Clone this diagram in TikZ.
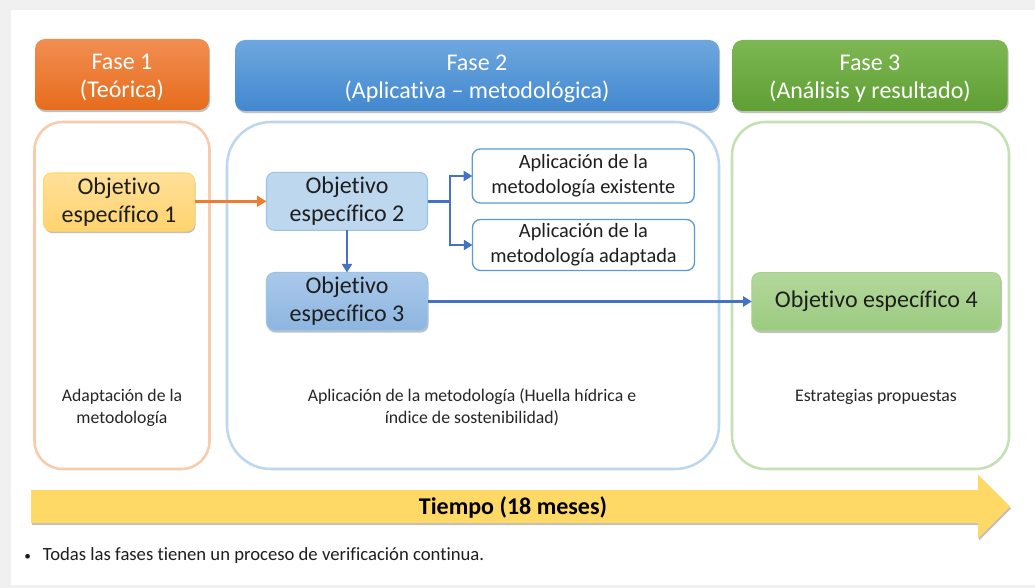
\documentclass[tikz,border=0pt]{standalone}
\usepackage{fontspec}
\setmainfont{Carlito}[Ligatures={TeX,NoCommon}]
\usetikzlibrary{arrows.meta,shadows}
\definecolor{bggray}{HTML}{F0F0F0}
\definecolor{txt}{HTML}{1E1E1E}
\definecolor{lbltxt}{HTML}{262626}
\definecolor{orTop}{HTML}{F18E51}
\definecolor{orBot}{HTML}{E76C1C}
\definecolor{blTop}{HTML}{6EA7DE}
\definecolor{blBot}{HTML}{4288CF}
\definecolor{grTop}{HTML}{7DB753}
\definecolor{grBot}{HTML}{5F9F34}
\definecolor{c1col}{HTML}{F8CBAD}
\definecolor{c2col}{HTML}{BDD7EE}
\definecolor{c3col}{HTML}{C5E0B4}
\definecolor{o1top}{HTML}{FFE09A}
\definecolor{o1bot}{HTML}{FFD36E}
\definecolor{o1brd}{HTML}{FFD966}
\definecolor{o2fill}{HTML}{BDD7EE}
\definecolor{o2brd}{HTML}{9DC3E6}
\definecolor{o3top}{HTML}{A9C9EA}
\definecolor{o3bot}{HTML}{8DB5E0}
\definecolor{o4top}{HTML}{B3D79C}
\definecolor{o4bot}{HTML}{9CCB80}
\definecolor{o4brd}{HTML}{A9D18E}
\definecolor{apblue}{HTML}{5B9BD5}
\definecolor{arblue}{HTML}{4472C4}
\definecolor{arorange}{HTML}{ED7D31}
\definecolor{timey}{HTML}{FFD966}
\begin{document}
\begin{tikzpicture}[x=0.75pt,y=-0.75pt,
  shad/.style={drop shadow={shadow xshift=0.8pt,shadow yshift=-1.6pt,opacity=0.35,fill=black!70}},
  hdr/.style={rounded corners=7.5pt,minimum height=71*0.75pt,inner sep=0pt,outer sep=0pt,shad},
  hdrtxt/.style={text=white,font=\fontsize{18}{21}\selectfont,align=center,inner sep=0pt},
  cont/.style={draw,line width=1.9pt,fill=white,inner sep=0pt,outer sep=0pt},
  objbox/.style={rounded corners=6pt,inner sep=0pt,outer sep=0pt,minimum height=58*0.75pt,
    font=\fontsize{18}{21}\selectfont,align=center,text=txt,line width=0.8pt},
  apbox/.style={draw=apblue,fill=white,line width=1pt,rounded corners=6pt,inner sep=0pt,outer sep=0pt,
    minimum width=222*0.75pt,font=\fontsize{15.25}{18.75}\selectfont,align=center,text=txt},
  lbl/.style={font=\fontsize{13.3}{16.5}\selectfont,align=center,text=lbltxt,inner sep=0pt},
  blarrow/.style={draw=arblue,line width=2.2pt,-{Triangle[length=6.5pt,width=7.5pt]}},
  orarrow/.style={draw=arorange,line width=2.2pt,-{Triangle[length=7pt,width=8pt]}}
]
\useasboundingbox (0,0) rectangle (1035,588);
\fill[bggray] (0,0) rectangle (1035,588);
\fill[white] (11,10) rectangle (1035,585);

% headers
\node[hdr,top color=orTop,bottom color=orBot,minimum width=174*0.75pt,
  label={[hdrtxt,yshift=-2.2pt]center:Fase 1\\(Teórica)}] (h1) at (122,74.5) {};
\node[hdr,top color=blTop,bottom color=blBot,minimum width=484*0.75pt,
  label={[hdrtxt,yshift=-2.2pt]center:Fase 2\\(Aplicativa – metodológica)}] (h2) at (477,75.5) {};
\node[hdr,top color=grTop,bottom color=grBot,minimum width=275*0.75pt,
  label={[hdrtxt,yshift=-2.2pt]center:Fase 3\\(Análisis y resultado)}] (h3) at (870,75.5) {};

% containers
\node[cont,draw=c1col,rounded corners=21pt,minimum width=175*0.75pt,minimum height=347*0.75pt] (c1) at (122,295.5) {};
\node[cont,draw=c2col,rounded corners=33pt,minimum width=492*0.75pt,minimum height=347*0.75pt] (c2) at (473,295.5) {};
\node[cont,draw=c3col,rounded corners=25pt,minimum width=277*0.75pt,minimum height=347*0.75pt] (c3) at (870.5,295.5) {};

% objectives
\node[objbox,draw=o1brd,top color=o1top,bottom color=o1bot,minimum width=151*0.75pt,shad] (o1) at (119,202) {Objetivo\\específico 1};
\node[objbox,draw=o2brd,fill=o2fill,minimum width=161*0.75pt] (o2) at (347,201.3) {Objetivo\\específico 2};
\node[objbox,draw=o2brd,top color=o3top,bottom color=o3bot,minimum width=161*0.75pt,shad] (o3) at (347,301.5) {Objetivo\\específico 3};
\node[objbox,draw=o4brd,top color=o4top,bottom color=o4bot,minimum width=249*0.75pt,shad] (o4) at (876.3,301.7) {Objetivo específico 4};

% application boxes
\node[apbox,minimum height=54*0.75pt] (a1) at (583.3,176) {Aplicación de la\\metodología existente};
\node[apbox,minimum height=51*0.75pt] (a2) at (583.5,245) {Aplicación de la\\metodología adaptada};

% connectors
\draw[orarrow] (o1.east |- o2.west) -- (o2.west);
\coordinate (fork) at (450,201.3);
\draw[blarrow] (o2.east) -- (fork) |- (a1.west);
\draw[blarrow] (o2.east) -- (fork) |- (a2.west);
\draw[blarrow] (o2.south) -- (o3.north);
\draw[blarrow] (o3.east) -- (o3.east -| o4.west);

% labels
\node[lbl] (t1) at (122,407.5) {Adaptación de la\\metodología};
\node[lbl] (t2) at (472,407.5) {Aplicación de la metodología (Huella hídrica e\\índice de sostenibilidad)};
\node[lbl] (t3) at (876,396.5) {Estrategias propuestas};

% timeline arrow
\path[fill=timey,shad] (31,490) -- (978,490) -- (978,474.5) -- (1010,506.5) -- (978,538.5) -- (978,523) -- (31,523) -- cycle;
\node[font=\bfseries\fontsize{18}{22}\selectfont,text=black,inner sep=0pt] (time) at (513,507) {Tiempo (18 meses)};

% bullet note
\node[anchor=west,font=\fontsize{14}{17}\selectfont,text=txt,inner sep=0pt] (note) at (24,556)
  {{\fontsize{10}{12}\selectfont\raisebox{0.6pt}{•}}\hspace{9pt}Todas las fases tienen un proceso de verificación continua.};
\end{tikzpicture}
\end{document}
